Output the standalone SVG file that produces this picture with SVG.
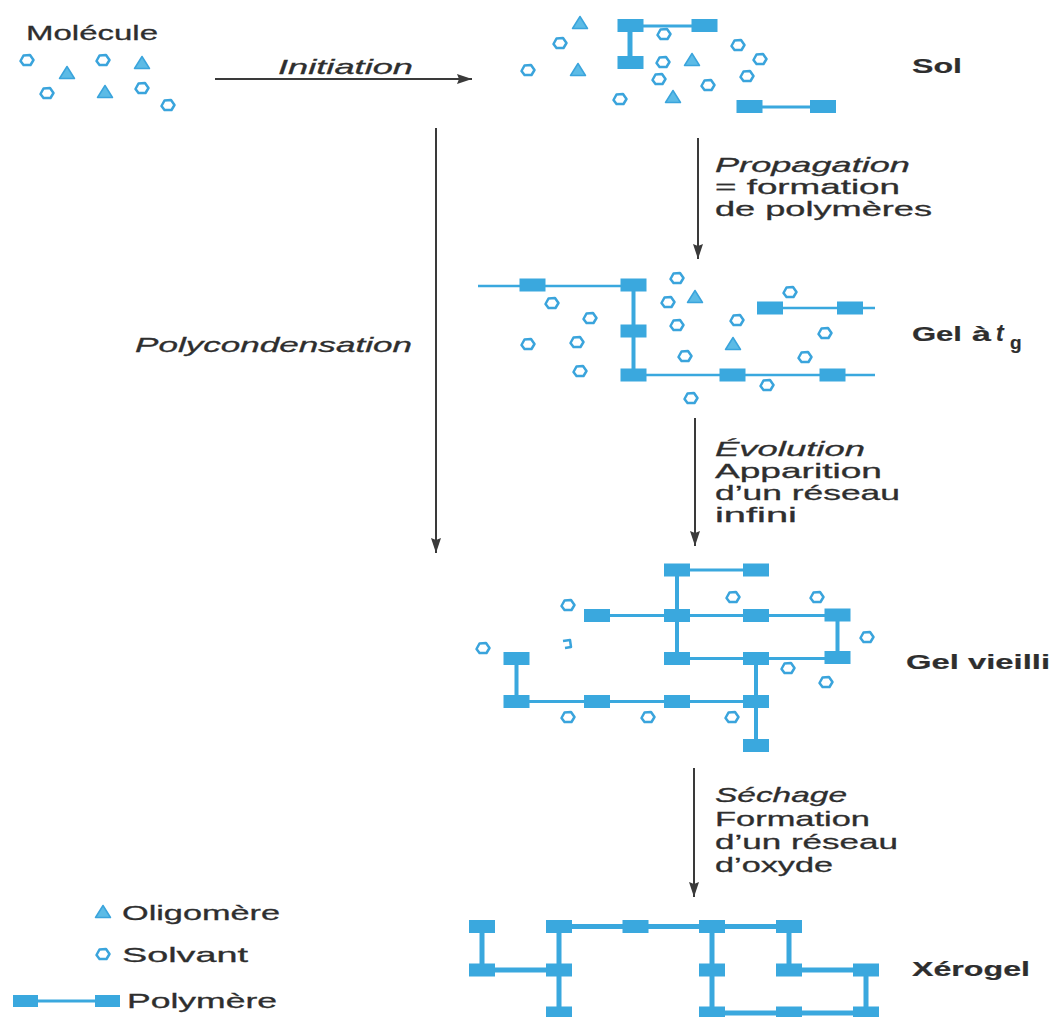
<svg xmlns="http://www.w3.org/2000/svg" xmlns:xlink="http://www.w3.org/1999/xlink" width="1057" height="1017" viewBox="0 0 1057 1017">
<style>
.lbl{font-family:"Liberation Sans",Arial,sans-serif;font-size:21px;fill:#2e2e2e;stroke:#2e2e2e;stroke-width:0.3}
.it{font-style:italic}
.b{font-weight:bold;font-size:21px;stroke-width:0.2}
.arr{stroke:#3a3a3a;stroke-width:2;fill:none}
.lk{stroke:#3aa8de;fill:none}
.sv{fill:#fff;stroke:#3aa4dc;stroke-width:2.5;stroke-linejoin:round}
.tr{fill:#5cbbe6;stroke:#3aa4dc;stroke-width:1.5;stroke-linejoin:round}
.pr{fill:#3aa8de}
</style>
<defs>
<marker id="ah" markerWidth="15" markerHeight="10" refX="15" refY="5" orient="auto" markerUnits="userSpaceOnUse" viewBox="0 0 15 10">
<path d="M0,0 L15,5 L0,10 L2,5 Z" fill="#3a3a3a"/>
</marker>
<path id="s" class="sv" d="M-6.5,1 L-3.5,-4.5 L3,-5 L6.5,0 L3.5,5 L-3.5,5 Z"/>
<path id="t" class="tr" d="M0,-6.5 L7.5,5.5 L-7.5,5.5 Z"/>
<rect id="r" class="pr" x="-13" y="-6.5" width="26" height="13"/>
</defs>
<rect width="1057" height="1017" fill="#fff"/>

<g id="connectors">
<line class="arr" x1="215" y1="79" x2="472" y2="79" marker-end="url(#ah)"/>
<line class="arr" x1="436" y1="128" x2="436" y2="553" marker-end="url(#ah)"/>
<line class="arr" x1="698" y1="138" x2="698" y2="259" marker-end="url(#ah)"/>
<line class="arr" x1="695" y1="418" x2="695" y2="546" marker-end="url(#ah)"/>
<line class="arr" x1="694" y1="768" x2="694" y2="897" marker-end="url(#ah)"/>
</g>

<g id="labels">
<text class="lbl it" x="278" y="74" textLength="135" lengthAdjust="spacingAndGlyphs">Initiation</text>
<text class="lbl it" x="135" y="352" textLength="277" lengthAdjust="spacingAndGlyphs">Polycondensation</text>
<text class="lbl it" x="715" y="172" textLength="195" lengthAdjust="spacingAndGlyphs">Propagation</text>
<text class="lbl" x="715" y="194" textLength="185" lengthAdjust="spacingAndGlyphs">= formation</text>
<text class="lbl" x="715" y="216" textLength="217" lengthAdjust="spacingAndGlyphs">de polymères</text>
<text class="lbl it" x="715" y="456" textLength="150" lengthAdjust="spacingAndGlyphs">Évolution</text>
<text class="lbl" x="715" y="478" textLength="167" lengthAdjust="spacingAndGlyphs">Apparition</text>
<text class="lbl" x="715" y="500" textLength="185" lengthAdjust="spacingAndGlyphs">d’un réseau</text>
<text class="lbl" x="715" y="522" textLength="82" lengthAdjust="spacingAndGlyphs">infini</text>
<text class="lbl it" x="715" y="802" textLength="132" lengthAdjust="spacingAndGlyphs">Séchage</text>
<text class="lbl" x="715" y="826" textLength="155" lengthAdjust="spacingAndGlyphs">Formation</text>
<text class="lbl" x="715" y="849" textLength="183" lengthAdjust="spacingAndGlyphs">d’un réseau</text>
<text class="lbl" x="715" y="872" textLength="118" lengthAdjust="spacingAndGlyphs">d’oxyde</text>
</g>

<g id="molecule">
<text class="lbl" x="26" y="40" textLength="132" lengthAdjust="spacingAndGlyphs">Molécule</text>
<use xlink:href="#s" x="27" y="60"/>
<use xlink:href="#s" x="103" y="60"/>
<use xlink:href="#s" x="47" y="93"/>
<use xlink:href="#s" x="142" y="88"/>
<use xlink:href="#s" x="168" y="105"/>
<use xlink:href="#t" x="67" y="73"/>
<use xlink:href="#t" x="142" y="63"/>
<use xlink:href="#t" x="105" y="92"/>
</g>

<g id="sol">
<path class="lk" stroke-width="3" d="M643,26 H692 M762,107 H810"/>
<path class="lk" stroke-width="5" d="M630,32 V56"/>
<use xlink:href="#r" x="630.5" y="25.5"/>
<use xlink:href="#r" x="704.5" y="25.5"/>
<use xlink:href="#r" x="630.5" y="62.5"/>
<use xlink:href="#r" x="749.5" y="106.5"/>
<use xlink:href="#r" x="823" y="106.5"/>
<use xlink:href="#s" x="664" y="34"/>
<use xlink:href="#s" x="560" y="43"/>
<use xlink:href="#s" x="663" y="62"/>
<use xlink:href="#s" x="738" y="45"/>
<use xlink:href="#s" x="760" y="59"/>
<use xlink:href="#s" x="528" y="70"/>
<use xlink:href="#s" x="659" y="79"/>
<use xlink:href="#s" x="708" y="85"/>
<use xlink:href="#s" x="747" y="76"/>
<use xlink:href="#s" x="620" y="99"/>
<use xlink:href="#t" x="580" y="23"/>
<use xlink:href="#t" x="692" y="60"/>
<use xlink:href="#t" x="578" y="70"/>
<use xlink:href="#t" x="673" y="97"/>
<text class="lbl b" x="912" y="73" textLength="50" lengthAdjust="spacingAndGlyphs">Sol</text>
</g>

<g id="gel">
<path class="lk" stroke-width="2.5" d="M478,286 H633 M633,375 H875 M770,308 H875"/>
<path class="lk" stroke-width="4" d="M633.5,286 V375"/>
<use xlink:href="#r" x="532.5" y="285"/>
<use xlink:href="#r" x="633.5" y="285"/>
<use xlink:href="#r" x="633.5" y="331"/>
<use xlink:href="#r" x="633.5" y="375"/>
<use xlink:href="#r" x="732.5" y="375"/>
<use xlink:href="#r" x="832.5" y="375"/>
<use xlink:href="#r" x="770" y="308"/>
<use xlink:href="#r" x="850" y="308"/>
<use xlink:href="#s" x="677" y="278"/>
<use xlink:href="#s" x="668" y="302"/>
<use xlink:href="#s" x="552" y="303"/>
<use xlink:href="#s" x="590" y="318"/>
<use xlink:href="#s" x="677" y="325"/>
<use xlink:href="#s" x="737" y="320"/>
<use xlink:href="#s" x="790" y="292"/>
<use xlink:href="#s" x="528" y="344"/>
<use xlink:href="#s" x="577" y="342"/>
<use xlink:href="#s" x="685" y="356"/>
<use xlink:href="#s" x="825" y="333"/>
<use xlink:href="#s" x="805" y="357"/>
<use xlink:href="#s" x="580" y="371"/>
<use xlink:href="#s" x="767" y="385"/>
<use xlink:href="#s" x="691" y="398"/>
<use xlink:href="#t" x="695" y="297"/>
<use xlink:href="#t" x="733" y="344"/>
<text class="lbl b" x="912" y="341"><tspan textLength="50" lengthAdjust="spacingAndGlyphs">Gel</tspan><tspan x="972" textLength="19" lengthAdjust="spacingAndGlyphs">à</tspan><tspan x="996" font-style="italic" font-size="23">t</tspan><tspan x="1010" y="349" font-size="19">g</tspan></text>
</g>

<g id="gel-vieilli">
<path class="lk" stroke-width="3" d="M677,570 H756 M597,615.5 H837 M677,658.5 H837 M516.5,701.5 H766"/>
<path class="lk" stroke-width="4" d="M677,570 V658 M837.5,615 V657 M756,658 V745 M516.5,658 V701"/>
<use xlink:href="#r" x="677" y="570"/>
<use xlink:href="#r" x="756" y="570"/>
<use xlink:href="#r" x="677" y="615.5"/>
<use xlink:href="#r" x="677" y="658.5"/>
<use xlink:href="#r" x="597" y="615.5"/>
<use xlink:href="#r" x="756" y="615.5"/>
<use xlink:href="#r" x="837.5" y="615"/>
<use xlink:href="#r" x="837.5" y="657.5"/>
<use xlink:href="#r" x="756" y="658.5"/>
<use xlink:href="#r" x="756" y="701.5"/>
<use xlink:href="#r" x="756" y="745.5"/>
<use xlink:href="#r" x="516.5" y="658.5"/>
<use xlink:href="#r" x="516.5" y="701.5"/>
<use xlink:href="#r" x="597" y="701.5"/>
<use xlink:href="#r" x="677" y="701.5"/>
<use xlink:href="#s" x="568" y="605"/>
<use xlink:href="#s" x="483" y="648"/>
<use xlink:href="#s" x="733" y="597"/>
<use xlink:href="#s" x="817" y="597"/>
<use xlink:href="#s" x="867" y="637"/>
<use xlink:href="#s" x="788" y="668"/>
<use xlink:href="#s" x="826" y="682"/>
<use xlink:href="#s" x="568" y="717"/>
<use xlink:href="#s" x="648" y="717"/>
<use xlink:href="#s" x="732" y="717"/>
<path class="sv" fill="none" d="M563,641 L570,640 L571,647 L565,648"/>
<text class="lbl b" x="906" y="669" textLength="144" lengthAdjust="spacingAndGlyphs">Gel vieilli</text>
</g>

<g id="xerogel">
<path class="lk" stroke-width="5" d="M482,926 V970 H559 M559,926 V1017 M559,926.5 H789 M712,926 V1017 M789,926 V970 H866 V1013 H712"/>
<use xlink:href="#r" x="482" y="926.5"/>
<use xlink:href="#r" x="559" y="926.5"/>
<use xlink:href="#r" x="635.5" y="926.5"/>
<use xlink:href="#r" x="712" y="926.5"/>
<use xlink:href="#r" x="789" y="926.5"/>
<use xlink:href="#r" x="482" y="970"/>
<use xlink:href="#r" x="559" y="970"/>
<use xlink:href="#r" x="712" y="970"/>
<use xlink:href="#r" x="789" y="970"/>
<use xlink:href="#r" x="866" y="970"/>
<use xlink:href="#r" x="559" y="1013"/>
<use xlink:href="#r" x="712" y="1013"/>
<use xlink:href="#r" x="789" y="1013"/>
<use xlink:href="#r" x="866" y="1013"/>
<text class="lbl b" x="912" y="976" textLength="118" lengthAdjust="spacingAndGlyphs">Xérogel</text>
</g>

<g id="legend">
<use xlink:href="#t" x="103" y="912"/>
<text class="lbl" x="122" y="920" textLength="158" lengthAdjust="spacingAndGlyphs">Oligomère</text>
<use xlink:href="#s" x="103" y="954"/>
<text class="lbl" x="122" y="962" textLength="126" lengthAdjust="spacingAndGlyphs">Solvant</text>
<path class="lk" stroke-width="3" d="M26,1001 H108"/>
<rect class="pr" x="13" y="995" width="25" height="12"/>
<rect class="pr" x="95" y="995" width="25" height="12"/>
<text class="lbl" x="127" y="1008" textLength="150" lengthAdjust="spacingAndGlyphs">Polymère</text>
</g>
</svg>
